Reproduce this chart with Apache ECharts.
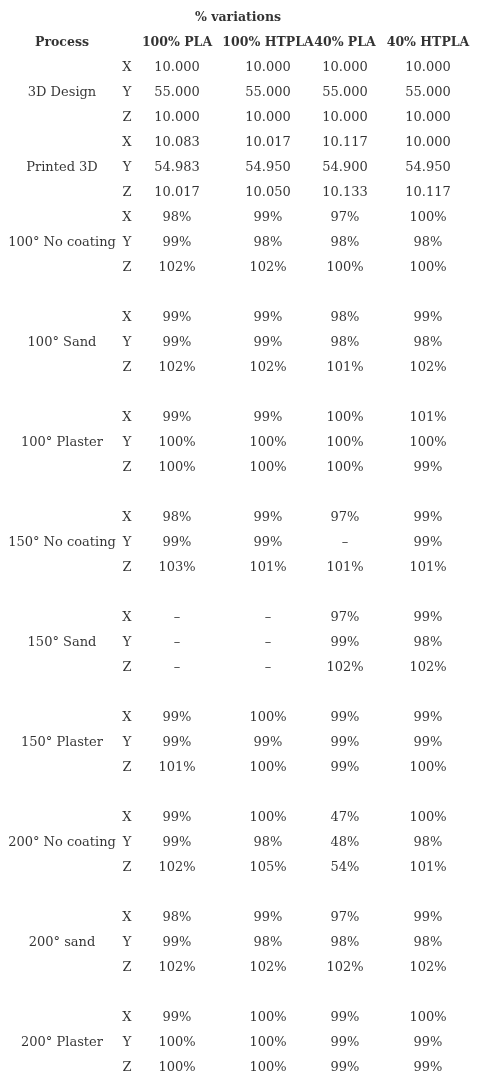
<!DOCTYPE html>
<html>
<head>
<meta charset="utf-8">
<script src="https://cdn.jsdelivr.net/npm/echarts@6/dist/echarts.min.js"></script>
<style>html,body{margin:0;padding:0;background:#fff}#chart{width:478px;height:1083px}</style>
</head>
<body>
<div id="chart"></div>
<script>
var title = '% variations';
var headers = ['Process', '', '100% PLA', '100% HTPLA', '40% PLA', '40% HTPLA'];
var axesXYZ = ['X', 'Y', 'Z'];
var processes = ['3D Design', 'Printed 3D', '100° No coating', '100° Sand', '100° Plaster',
  '150° No coating', '150° Sand', '150° Plaster', '200° No coating', '200° sand', '200° Plaster'];
var values = [
  [['10.000', '10.000', '10.000', '10.000'], ['55.000', '55.000', '55.000', '55.000'], ['10.000', '10.000', '10.000', '10.000']],
  [['10.083', '10.017', '10.117', '10.000'], ['54.983', '54.950', '54.900', '54.950'], ['10.017', '10.050', '10.133', '10.117']],
  [['98%', '99%', '97%', '100%'], ['99%', '98%', '98%', '98%'], ['102%', '102%', '100%', '100%']],
  [['99%', '99%', '98%', '99%'], ['99%', '99%', '98%', '98%'], ['102%', '102%', '101%', '102%']],
  [['99%', '99%', '100%', '101%'], ['100%', '100%', '100%', '100%'], ['100%', '100%', '100%', '99%']],
  [['98%', '99%', '97%', '99%'], ['99%', '99%', '–', '99%'], ['103%', '101%', '101%', '101%']],
  [['–', '–', '97%', '99%'], ['–', '–', '99%', '98%'], ['–', '–', '102%', '102%']],
  [['99%', '100%', '99%', '99%'], ['99%', '99%', '99%', '99%'], ['101%', '100%', '99%', '100%']],
  [['99%', '100%', '47%', '100%'], ['99%', '98%', '48%', '98%'], ['102%', '105%', '54%', '101%']],
  [['98%', '99%', '97%', '99%'], ['99%', '98%', '98%', '98%'], ['102%', '102%', '102%', '102%']],
  [['99%', '100%', '99%', '100%'], ['100%', '100%', '99%', '99%'], ['100%', '100%', '99%', '99%']]
];

// layout: column centres (px) and row positions
var colX = [62, 127, 177, 268, 345, 428];
function groupStart(g) { return g < 2 ? g * 3 : 6 + (g - 2) * 4; }

var cells = [];
var bold = [];
bold.push([238, -2, title]);
headers.forEach(function (h, c) { if (h) bold.push([colX[c], -1, h]); });
processes.forEach(function (p, g) {
  var s = groupStart(g);
  cells.push([colX[0], s + 1, p]);
  axesXYZ.forEach(function (a, r) {
    cells.push([colX[1], s + r, a]);
    values[g][r].forEach(function (v, c) { cells.push([colX[c + 2], s + r, v]); });
  });
});

var font = '"DejaVu Serif", serif';
function textSeries(data, weight, size) {
  return {
    type: 'scatter', symbolSize: 0, data: data, silent: true,
    itemStyle: { color: '#000' },
    label: {
      show: true, position: 'inside', formatter: function (p) { return p.value[2]; },
      color: '#000', fontFamily: font, fontSize: size, fontWeight: weight
    }
  };
}

var chart = echarts.init(document.getElementById('chart'));
chart.setOption({
  animation: false,
  grid: { left: 0, right: 0, top: 0, bottom: 0 },
  xAxis: { type: 'value', min: 0, max: 478, show: false },
  yAxis: { type: 'value', min: -2.72, max: 40.6, inverse: true, show: false },
  series: [textSeries(cells, 'normal', 13), textSeries(bold, 'bold', 12.5)]
});
</script>
</body>
</html>
